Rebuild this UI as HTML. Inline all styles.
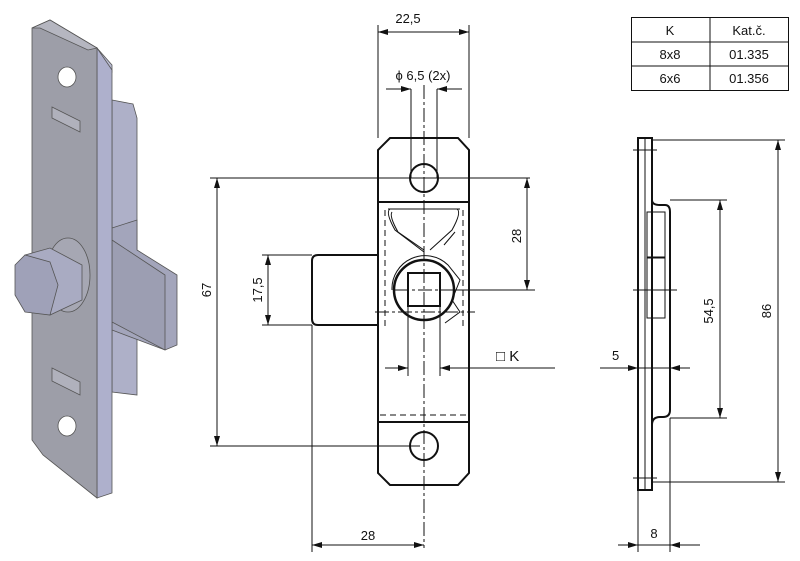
<!DOCTYPE html>
<html><head><meta charset="utf-8"><style>
html,body{margin:0;padding:0;background:#fff;}
svg{display:block;}
text{font-family:"Liberation Sans",sans-serif;font-size:13px;fill:#111;}
.l{stroke:#111;stroke-width:1;fill:none;}
.t{stroke:#111;stroke-width:2;fill:none;}
.c{stroke:#111;stroke-width:1;fill:none;stroke-dasharray:14 3 3 3;}
.d{stroke:#111;stroke-width:1;fill:none;stroke-dasharray:6 4;}
</style></head><body>
<svg width="800" height="561" viewBox="0 0 800 561" xmlns="http://www.w3.org/2000/svg">
<defs>
<marker id="a" markerWidth="10" markerHeight="6" refX="10" refY="3" orient="auto-start-reverse" markerUnits="userSpaceOnUse"><path d="M0,0 L10,3 L0,6 z" fill="#111"/></marker>
</defs>

<!-- ISO view -->
<g stroke="#555" stroke-width="0.8">
<polygon points="112,100 133,104 137,118 137,395 112,392" fill="#aeb0c8"/>
<polygon points="112,228 137,220 137,250 177,275 177,345 165,350 112,330" fill="#a3a5bb"/>
<polygon points="112,240 165,275 165,350 112,322" fill="#9c9eb2"/>
<polygon points="112,65 97,48 105,68 112,72" fill="#b9bbd2"/>
<polygon points="97,48 112,70 112,493 97,498" fill="#aeb0cc"/>
<polygon points="32,28 50,20 97,48 97,498 43,455 32,440" fill="#9d9ea8"/>
<polygon points="32,28 50,20 97,48 88,50 40,28" fill="#b5b6c0"/>
<ellipse cx="67" cy="77" rx="9" ry="10" fill="#fff"/>
<ellipse cx="67" cy="426" rx="9" ry="10" fill="#fff"/>
<polygon points="52,107 80,121 80,132 52,118" fill="#b0b1bc"/>
<polygon points="52,368 80,382 80,395 52,381" fill="#b0b1bc"/>
<ellipse cx="68" cy="275" rx="22" ry="37" fill="#a6a7b3"/>
<polygon points="25,255 50,248 82,265 82,300 50,315 25,300" fill="#a9abc2"/>
<polygon points="15,265 25,255 50,262 58,285 50,315 25,312 15,295" fill="#9fa1b8"/>
</g>

<!-- Middle view -->
<polygon class="t" points="390,138 458,138 469,150 469,473 458,485 390,485 378,473 378,150"/>
<line class="t" x1="378" y1="202" x2="469" y2="202"/>
<line class="t" x1="378" y1="422" x2="469" y2="422"/>
<line class="d" x1="380" y1="415" x2="467" y2="415"/>
<circle class="t" cx="424" cy="178" r="14"/>
<circle class="t" cx="424" cy="446" r="14"/>
<path class="l" d="M390,209 Q385,212 395,230 L424,252 M457,209 Q462,212 452,230 L430,250 M388,209 L460,209"/>
<path class="l" d="M392,212 Q389,216 398,232 L424,250 M444,245 L455,232"/>
<circle cx="424" cy="290" r="30" stroke="#111" stroke-width="2.5" fill="none"/>
<path class="l" d="M392,290 A33,33 0 0 1 448,265 L460,280 L452,300 L460,312 L445,323"/>
<rect class="t" x="408" y="273" width="32" height="33" fill="none"/>
<path class="t" d="M378,255 L318,255 Q312,255 312,261 L312,319 Q312,325 318,325 L378,325"/>
<line class="d" x1="385" y1="210" x2="385" y2="330"/>
<line class="d" x1="463" y1="210" x2="463" y2="330"/>
<!-- centre lines -->
<line class="c" x1="424" y1="85" x2="424" y2="548"/>
<line class="c" x1="375" y1="312" x2="475" y2="312"/>
<line class="c" x1="395" y1="290" x2="453" y2="290"/>
<!-- dimensions -->
<line class="l" x1="378" y1="25" x2="378" y2="138"/>
<line class="l" x1="469" y1="25" x2="469" y2="138"/>
<line class="l" x1="378" y1="32" x2="469" y2="32" marker-start="url(#a)" marker-end="url(#a)"/>
<text x="408" y="23" text-anchor="middle">22,5</text>
<line class="l" x1="411" y1="89" x2="411" y2="178"/>
<line class="l" x1="437" y1="89" x2="437" y2="178"/>
<line class="l" x1="386" y1="89" x2="411" y2="89" marker-end="url(#a)"/>
<line class="l" x1="462" y1="89" x2="437" y2="89" marker-end="url(#a)"/>
<text x="423" y="80" text-anchor="middle">ϕ 6,5 (2x)</text>
<line class="l" x1="210" y1="178" x2="530" y2="178"/>
<line class="l" x1="210" y1="446" x2="420" y2="446"/>
<line class="l" x1="217" y1="178" x2="217" y2="446" marker-start="url(#a)" marker-end="url(#a)"/>
<text transform="translate(211,290) rotate(-90)" text-anchor="middle">67</text>
<line class="l" x1="440" y1="290" x2="535" y2="290"/>
<line class="l" x1="527" y1="178" x2="527" y2="290" marker-start="url(#a)" marker-end="url(#a)"/>
<text transform="translate(521,236) rotate(-90)" text-anchor="middle">28</text>
<line class="l" x1="262" y1="255" x2="312" y2="255"/>
<line class="l" x1="262" y1="325" x2="312" y2="325"/>
<line class="l" x1="268" y1="255" x2="268" y2="325" marker-start="url(#a)" marker-end="url(#a)"/>
<text transform="translate(262,290) rotate(-90)" text-anchor="middle">17,5</text>
<line class="l" x1="312" y1="325" x2="312" y2="552"/>
<line class="l" x1="312" y1="545" x2="424" y2="545" marker-start="url(#a)" marker-end="url(#a)"/>
<text x="368" y="540" text-anchor="middle">28</text>
<line class="l" x1="408" y1="306" x2="408" y2="376"/>
<line class="l" x1="440" y1="306" x2="440" y2="376"/>
<line class="l" x1="385" y1="368" x2="408" y2="368" marker-end="url(#a)"/>
<line class="l" x1="555" y1="368" x2="440" y2="368" marker-end="url(#a)"/>
<text x="496" y="361" style="font-size:15px">□ K</text>

<!-- Right side view -->
<rect class="t" x="638" y="138" width="14" height="352"/>
<line class="l" x1="645" y1="138" x2="645" y2="490"/>
<path class="t" d="M652,200 Q652,205 660,205 L665,205 Q670,205 670,212 L670,410 Q670,417 663,417 L660,417 Q652,417 652,425"/>
<rect class="l" x="647" y="212" width="18" height="45"/>
<rect class="l" x="647" y="258" width="18" height="60"/>
<line class="l" x1="633" y1="150" x2="657" y2="150"/>
<line class="l" x1="633" y1="290" x2="677" y2="290"/>
<line class="l" x1="633" y1="478" x2="657" y2="478"/>
<line class="l" x1="652" y1="140" x2="785" y2="140"/>
<line class="l" x1="652" y1="482" x2="785" y2="482"/>
<line class="l" x1="778" y1="140" x2="778" y2="482" marker-start="url(#a)" marker-end="url(#a)"/>
<text transform="translate(771,311) rotate(-90)" text-anchor="middle">86</text>
<line class="l" x1="670" y1="200" x2="727" y2="200"/>
<line class="l" x1="670" y1="418" x2="727" y2="418"/>
<line class="l" x1="720" y1="200" x2="720" y2="418" marker-start="url(#a)" marker-end="url(#a)"/>
<text transform="translate(713,311) rotate(-90)" text-anchor="middle">54,5</text>
<line class="l" x1="600" y1="368" x2="638" y2="368" marker-end="url(#a)"/>
<line class="l" x1="690" y1="368" x2="670" y2="368" marker-end="url(#a)"/>
<line class="l" x1="638" y1="368" x2="670" y2="368"/>
<text x="612" y="360">5</text>
<line class="l" x1="638" y1="490" x2="638" y2="552"/>
<line class="l" x1="670" y1="418" x2="670" y2="552"/>
<line class="l" x1="618" y1="545" x2="638" y2="545" marker-end="url(#a)"/>
<line class="l" x1="700" y1="545" x2="670" y2="545" marker-end="url(#a)"/>
<line class="l" x1="638" y1="545" x2="670" y2="545"/>
<text x="654" y="538" text-anchor="middle">8</text>

<!-- Table -->
<rect class="l" x="631.5" y="17.5" width="157" height="73"/>
<line class="l" x1="631" y1="42" x2="789" y2="42"/>
<line class="l" x1="631" y1="66" x2="789" y2="66"/>
<line class="l" x1="710" y1="17" x2="710" y2="91"/>
<text x="670" y="35" text-anchor="middle">K</text>
<text x="749" y="35" text-anchor="middle">Kat.č.</text>
<text x="670" y="59" text-anchor="middle">8x8</text>
<text x="749" y="59" text-anchor="middle">01.335</text>
<text x="670" y="83" text-anchor="middle">6x6</text>
<text x="749" y="83" text-anchor="middle">01.356</text>
</svg>
</body></html>
